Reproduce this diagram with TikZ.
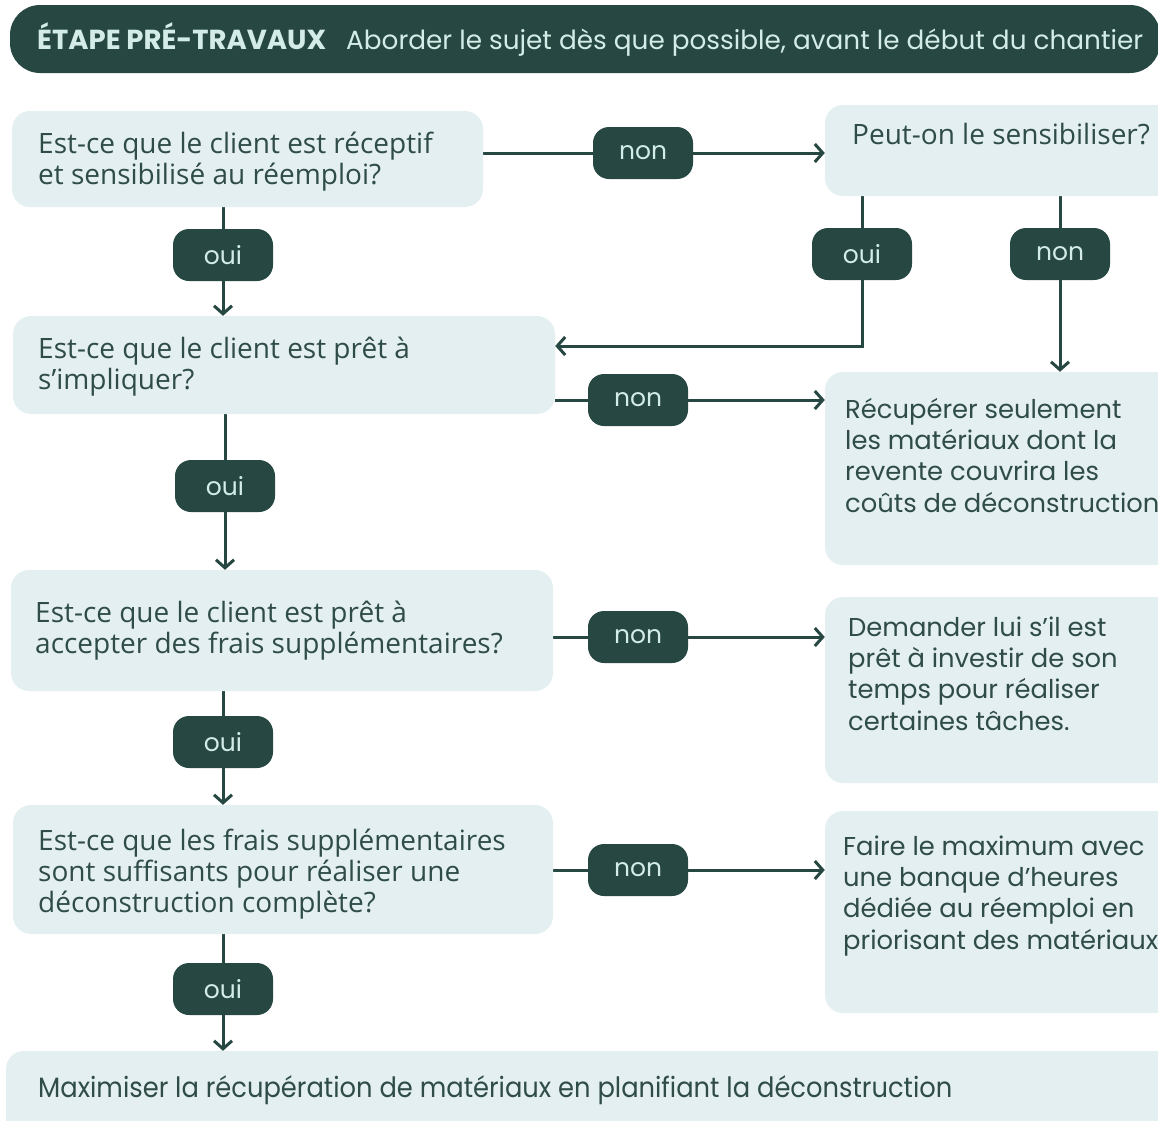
\documentclass[tikz,border=0pt]{standalone}
\usepackage{fontspec}
\setmainfont{Poppins}
\newfontfamily\qfont{Open Sans}
\newfontfamily\squeezefont[FakeStretch=0.92]{Poppins}
\usetikzlibrary{arrows.meta}
\definecolor{deep}{HTML}{274842}
\definecolor{pale}{HTML}{E3EFF0}
\definecolor{ink}{HTML}{2F4C47}
\definecolor{mint}{HTML}{D3ECE8}
\pgfdeclarelayer{bg}
\pgfsetlayers{bg,main}

\begin{document}
\begin{tikzpicture}[x=1pt,y=-1pt,
  box/.style={fill=pale, rounded corners=18pt, inner sep=0pt},
  pill/.style={fill=deep, rounded corners=16pt, minimum width=100pt, minimum height=52pt,
    inner sep=0pt, text=mint, font=\fontsize{25}{28}\selectfont},
  link/.style={draw=deep, line width=3pt, -{Straight Barb[length=8pt,width=18pt,line width=3pt]}},
  qtext/.style={anchor=base west, align=left, text=ink, inner sep=0pt,
    font=\qfont\fontsize{28}{31}\selectfont},
  atext/.style={anchor=base west, align=left, text=ink, inner sep=0pt,
    font=\fontsize{25.8}{31.2}\selectfont}
]
\useasboundingbox (0,0) rectangle (1158,1120);
\clip (0,0) rectangle (1158,1120);

% header band
\node[fill=deep, rounded corners=30pt, minimum width=1150pt, minimum height=68pt, inner sep=0pt] (head) at (585,39) {};
\node[anchor=base west, inner sep=0pt, text=mint, font=\fontsize{27.5}{30}\selectfont] (headtxt) at (37,49)
  {\textbf{ÉTAPE PRÉ-TRAVAUX}\hspace{20pt}{\fontsize{26.3}{30}\selectfont Aborder le sujet dès que possible, avant le début du chantier}};

% boxes
\node[box, minimum width=471pt, minimum height=96pt] (q1) at (247.5,159) {};
\node[box, minimum width=350pt, minimum height=91pt] (peut) at (1000,150.5) {};
\node[box, minimum width=542pt, minimum height=98pt] (q2) at (284,365) {};
\node[box, minimum width=350pt, minimum height=193pt] (recup) at (1000,468.5) {};
\node[box, minimum width=542pt, minimum height=121pt] (q3) at (282,630.5) {};
\node[box, minimum width=350pt, minimum height=186pt] (dem) at (1000,690) {};
\node[box, minimum width=540pt, minimum height=129pt] (q4) at (283,869.5) {};
\node[box, minimum width=350pt, minimum height=202pt] (faire) at (1000,912) {};
\node[box, minimum width=1174pt, minimum height=89pt] (fin) at (593,1095.5) {};

% box texts (anchored on the baseline of their last line)
\node[qtext] (q1t) at (38,184) {Est-ce que le client est réceptif\\et sensibilisé au réemploi?};
\node[qtext] (peutt) at (852,144) {Peut-on le sensibiliser?};
\node[qtext] (q2t) at (38,389) {Est-ce que le client est prêt à\\s’impliquer?};
\node[atext] (recupt) at (845,512) {Récupérer seulement\\les matériaux dont la\\revente couvrira les\\coûts de déconstruction};
\node[qtext] (q3t) at (35,653) {Est-ce que le client est prêt à\\accepter des frais supplémentaires?};
\node[atext] (demt) at (848,730) {Demander lui s’il est\\prêt à investir de son\\temps pour réaliser\\certaines tâches.};
\node[qtext] (q4t) at (38,912) {Est-ce que les frais supplémentaires\\sont suffisants pour réaliser une\\déconstruction complète?};
\node[atext] (fairet) at (843,949) {Faire le maximum avec\\une banque d’heures\\dédiée au réemploi en\\priorisant des matériaux};
\node[anchor=base west, inner sep=0pt, text=ink, font=\squeezefont\fontsize{28}{31}\selectfont] (fint) at (38,1097)
  {Maximiser la récupération de matériaux en planifiant la déconstruction};

% answer pills
\node[pill] (n1) at (643,153) {non};
\node[pill] (o1) at (223,255) {oui};
\node[pill] (o2) at (862,254) {oui};
\node[pill] (n2) at (1060,254) {non};
\node[pill] (n3) at (638,400) {non};
\node[pill] (o3) at (225,486) {oui};
\node[pill] (n4) at (638,637) {non};
\node[pill] (o4) at (223,742) {oui};
\node[pill] (n5) at (638,870) {non};
\node[pill] (o5) at (223,989) {oui};

\coordinate (turn) at (862,346);

% connectors
\begin{pgfonlayer}{bg}
\draw[link] (q1.east |- n1) -- (peut.west |- n1);
\draw[link] (q1.south -| o1) -- (q2.north -| o1);
\draw[link] (peut.south -| o2) -- (turn) -- (q2.east |- turn);
\draw[link] (peut.south -| n2) -- (recup.north -| n2);
\draw[link] (q2.east |- n3) -- (recup.west |- n3);
\draw[link] (q2.south -| o3) -- (q3.north -| o3);
\draw[link] (q3.east |- n4) -- (dem.west |- n4);
\draw[link] (q3.south -| o4) -- (q4.north -| o4);
\draw[link] (q4.east |- n5) -- (faire.west |- n5);
\draw[link] (q4.south -| o5) -- (fin.north -| o5);
\end{pgfonlayer}
\end{tikzpicture}
\end{document}
